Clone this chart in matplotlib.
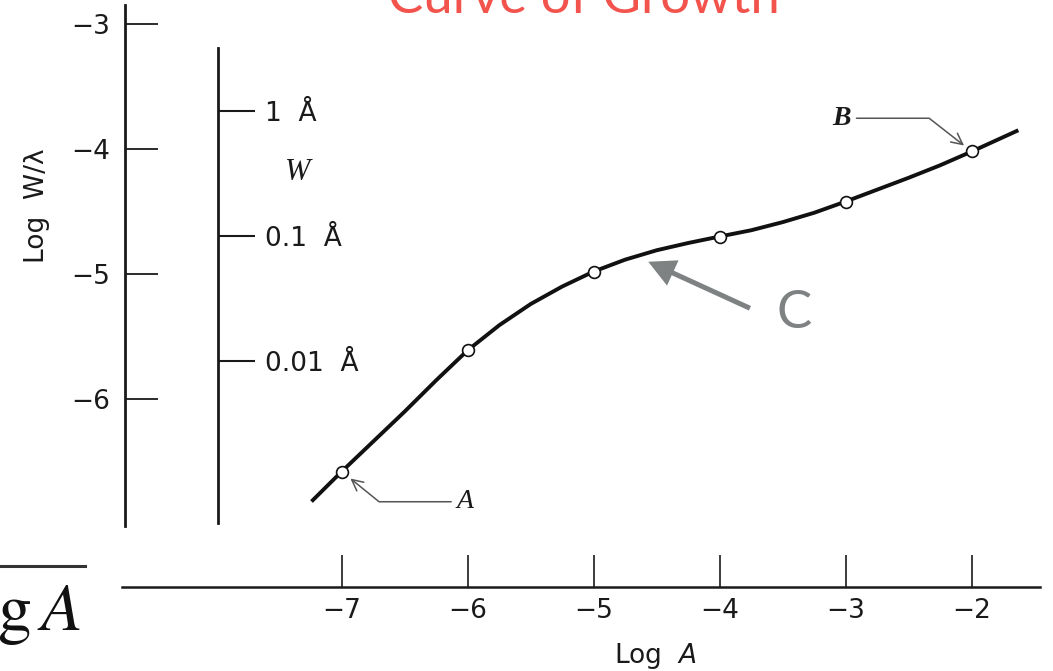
import numpy as np
import matplotlib
matplotlib.use('Agg')
import matplotlib.pyplot as plt
from matplotlib.lines import Line2D

plt.rcParams['font.family'] = ['DejaVu Sans']
plt.rcParams['mathtext.fontset'] = 'dejavusans'

# curve of growth, log W/lambda against log A
log_a_curve = [-7.24, -7.0, -6.5, -6.25, -6.0, -5.75, -5.5, -5.25, -5.0,
               -4.75, -4.5, -4.25, -4.0, -3.75, -3.5, -3.25, -3.0, -2.75,
               -2.5, -2.25, -2.0, -1.63]
log_w_curve = [-6.82, -6.58, -6.10, -5.85, -5.61, -5.41, -5.24, -5.10, -4.98,
               -4.885, -4.81, -4.752, -4.70, -4.65, -4.585, -4.51, -4.42,
               -4.325, -4.23, -4.13, -4.02, -3.85]

# measured lines (open circles)
log_a_pts = [-7, -6, -5, -4, -3, -2]
log_w_pts = [-6.58, -5.61, -4.98, -4.70, -4.42, -4.02]

xticks = [-7, -6, -5, -4, -3, -2]
yticks = [-3, -4, -5, -6]

# equivalent width scale for lambda = 5000 A
wavelength = 5000.0
w_angstrom = [1, 0.1, 0.01]
w_labels = ['1  Å', '0.1  Å', '0.01  Å']

ink = '#1a1a1a'

fig = plt.figure(figsize=(10.53, 6.71), dpi=100)
ax = fig.add_axes([0, 0, 1, 1])
ax.set_xlim(-9.712, -1.355)
ax.set_ylim(-8.176, -2.808)
ax.patch.set_visible(False)

ax.spines['top'].set_visible(False)
ax.spines['right'].set_visible(False)
ax.spines['left'].set_position(('data', -8.72))
ax.spines['left'].set_bounds(-7.016, -2.85)
ax.spines['left'].set_linewidth(2.0)
ax.spines['left'].set_color(ink)
ax.spines['bottom'].set_position(('data', -7.507))
ax.spines['bottom'].set_bounds(-8.746, -1.458)
ax.spines['bottom'].set_linewidth(1.8)
ax.spines['bottom'].set_color(ink)

ax.set_xticks(xticks)
ax.set_yticks(yticks)
ax.tick_params(axis='x', direction='in', length=23, width=1.2, labelsize=19,
               pad=8, colors=ink)
ax.tick_params(axis='y', direction='in', length=23.5, width=1.3, labelsize=19,
               pad=11, colors=ink)

ax.set_xlabel('Log  $A$', fontsize=19, color=ink)
ax.xaxis.set_label_coords(655 / 1053, 1 - 641 / 671)
ax.set_ylabel('Log  W/λ', fontsize=19, color=ink)
ax.yaxis.set_label_coords(50 / 1053, 1 - 206 / 671)

# second vertical scale: W in angstrom
w_pos = np.log10(np.array(w_angstrom) / wavelength)
sec = ax.secondary_yaxis(218.3 / 1053)
sec.set_alignment('right')
sec.set_ticks(w_pos, labels=w_labels)
sec.spines['right'].set_bounds(-6.992, -3.192)
sec.spines['right'].set_linewidth(2.0)
sec.spines['right'].set_color(ink)
sec.tick_params(direction='out', length=26.5, width=1.5, labelsize=19, pad=7,
                colors=ink)
ax.text(-7.347, -4.184, 'W', fontsize=22, family='Liberation Serif',
        style='italic', ha='center', va='center', color=ink)

# curve and points
ax.plot(log_a_curve, log_w_curve, color='#111111', lw=2.8,
        solid_joinstyle='round', solid_capstyle='butt', zorder=3)
ax.plot(log_a_pts, log_w_pts, 'o', mfc='white', mec='#111111', ms=8.5,
        mew=1.2, zorder=4)

ax.annotate('A', xy=(log_a_pts[0], log_w_pts[0]), xytext=(-6.087, -6.822),
            fontsize=20, family='Liberation Serif', style='italic',
            ha='left', va='center', color=ink,
            arrowprops=dict(arrowstyle='->', color='#555555', lw=1.1,
                            shrinkA=2, shrinkB=8,
                            connectionstyle='angle,angleA=0,angleB=-39,rad=0'))
ax.annotate('B', xy=(log_a_pts[-1], log_w_pts[-1]), xytext=(-3.032, -3.754),
            fontsize=20, family='Liberation Serif', style='italic',
            weight='bold', ha='center', va='center', color=ink,
            arrowprops=dict(arrowstyle='->', color='#555555', lw=1.1,
                            shrinkA=2, shrinkB=7,
                            connectionstyle='angle,angleA=0,angleB=-38,rad=0'))

# flat part of the curve
grey = '#7f8283'
ax.annotate('', xy=(-4.567, -4.902), xytext=(-3.760, -5.274),
            arrowprops=dict(arrowstyle='simple,head_length=0.97,head_width=1.0,tail_width=0.18',
                            mutation_scale=20, color=grey, lw=0,
                            shrinkA=0, shrinkB=0))
ax.text(-3.410, -5.434, 'C', fontsize=38, family='Lato', color=grey,
        ha='center', va='baseline')

fig.text(584 / 1053, 1 - 13 / 671, 'Curve of Growth', fontsize=38,
         family='Lato', color='#f2534c', ha='center', va='baseline')

fig.text(80 / 1053, 1 - 630 / 671, r'$\log A$', fontsize=49,
         math_fontfamily='stix', ha='right', va='baseline', color='#111111')
fig.add_artist(Line2D([0, 85 / 1053], [1 - 565.7 / 671] * 2,
                      transform=fig.transFigure, color='#333333', lw=2.2))

fig.savefig('out.png', dpi=100, facecolor='white')
